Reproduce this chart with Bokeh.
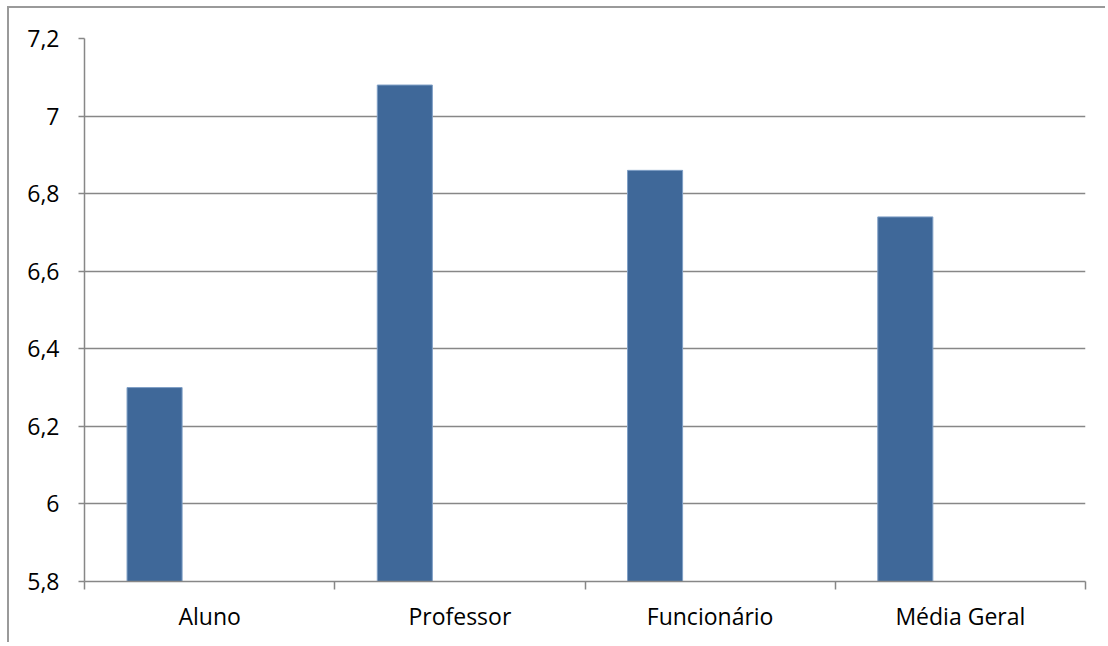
from bokeh.plotting import figure
from bokeh.models import FixedTicker, CustomJSTickFormatter, Range1d
from bokeh.embed import file_html
from bokeh.resources import INLINE

# Average score per group
categories = ["Aluno", "Professor", "Funcionário", "Média Geral"]
scores = [6.30, 7.08, 6.86, 6.74]
y_ticks = [5.8, 6.0, 6.2, 6.4, 6.6, 6.8, 7.0, 7.2]

n = len(categories)
centers = [i + 0.5 for i in range(n)]
boundaries = list(range(n + 1))
bar_width = 0.22
# bars sit to the left of each category centre (first slot of a two-slot cluster)
bar_x = [c - bar_width for c in centers]

GRAY = "#878787"
FONT = "Open Sans"
FONT_SIZE = "23px"

p = figure(
    width=1098, height=636,
    x_range=Range1d(0, n), y_range=Range1d(y_ticks[0], y_ticks[-1]),
    output_backend="svg", toolbar_location=None,
    min_border_left=75, min_border_top=30, min_border_right=22, min_border_bottom=63,
)
p.margin = (6, 0, 0, 7)
p.styles = {"border-left": "2px solid #9a9a9a", "border-top": "2px solid #9a9a9a"}
p.outline_line_color = None
p.background_fill_color = "white"
p.border_fill_color = "white"

p.vbar(x=bar_x, top=scores, bottom=y_ticks[0], width=bar_width,
       fill_color="#3F6899", line_color="#7F9FC6", line_width=1)

# y axis
p.yaxis.ticker = FixedTicker(ticks=y_ticks, minor_ticks=[])
p.yaxis.formatter = CustomJSTickFormatter(
    code="return (Math.round(tick * 10) / 10).toString().replace('.', ',');")
p.yaxis.axis_line_color = GRAY
p.yaxis.axis_line_width = 1.5
p.yaxis.major_tick_line_color = GRAY
p.yaxis.major_tick_line_width = 1.5
p.yaxis.major_tick_out = 6
p.yaxis.major_tick_in = 0
p.yaxis.minor_tick_line_color = None
p.yaxis.major_label_standoff = 19
p.yaxis.major_label_text_font = FONT
p.yaxis.major_label_text_font_size = FONT_SIZE
p.yaxis.major_label_text_color = "black"

# x axis: labels at category centres, tick marks at category boundaries
p.xaxis.ticker = FixedTicker(ticks=centers, minor_ticks=boundaries)
p.xaxis.formatter = CustomJSTickFormatter(
    args=dict(cats=categories), code="return cats[Math.floor(tick)];")
p.xaxis.axis_line_color = GRAY
p.xaxis.axis_line_width = 1.5
p.xaxis.major_tick_line_color = None
p.xaxis.major_tick_out = 0
p.xaxis.major_tick_in = 0
p.xaxis.minor_tick_line_color = GRAY
p.xaxis.minor_tick_line_width = 1.5
p.xaxis.minor_tick_out = 8
p.xaxis.minor_tick_in = 0
p.xaxis.major_label_standoff = 10
p.xaxis.major_label_text_font = FONT
p.xaxis.major_label_text_font_size = FONT_SIZE
p.xaxis.major_label_text_color = "black"

p.xgrid.grid_line_color = None
p.ygrid.ticker = FixedTicker(ticks=y_ticks)
p.ygrid.grid_line_color = GRAY
p.ygrid.grid_line_width = 1.5

open("out.html", "w").write(file_html(p, INLINE))
